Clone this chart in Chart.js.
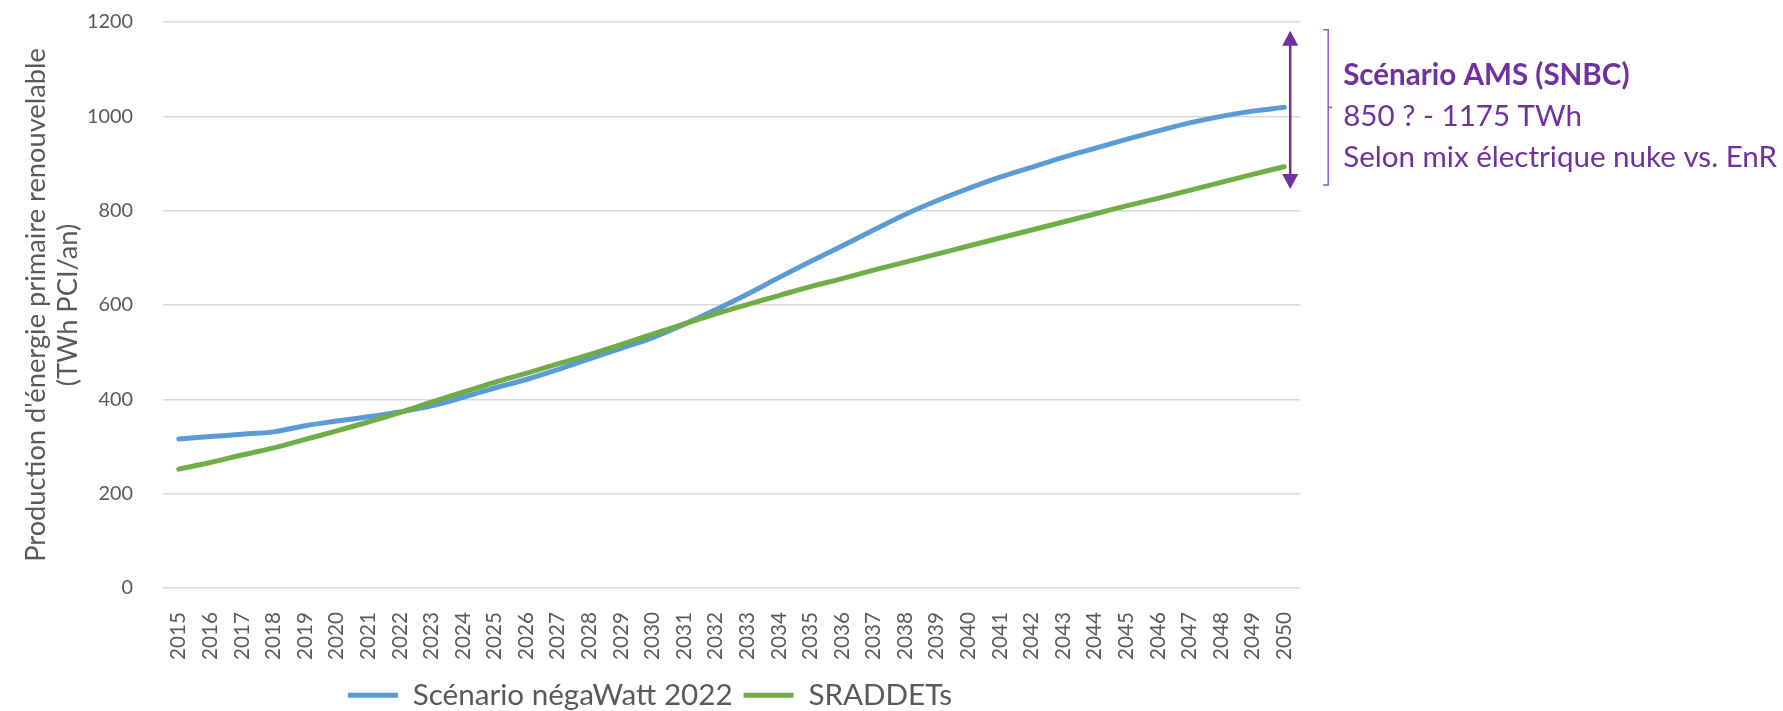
<!DOCTYPE html>
<html>
<head>
<meta charset="utf-8">
<script src="https://cdn.jsdelivr.net/npm/chart.js@4.4.1/dist/chart.umd.min.js"></script>
<style>
  html, body { margin: 0; padding: 0; background: #ffffff; }
  #wrap { width: 1783px; height: 711px; }
</style>
</head>
<body>
<div id="wrap"><canvas id="c" width="1783" height="711"></canvas></div>
<script>
// ---------- DATA ----------
const years = ['2015','2016','2017','2018','2019','2020','2021','2022','2023','2024',
  '2025','2026','2027','2028','2029','2030','2031','2032','2033','2034',
  '2035','2036','2037','2038','2039','2040','2041','2042','2043','2044',
  '2045','2046','2047','2048','2049','2050'];

const negaWatt2022 = [316,321,326,331,344,354,363,373,386,404,
  424,442,463,486,508,531,559,590,623,658,
  692,725,759,792,821,847,871,892,913,932,
  951,969,986,1000,1011,1019];

const sraddets = [252,266,282,297,315,333,352,372,394,415,
  436,455,475,495,516,538,560,581,601,620,
  639,656,674,691,708,725,742,759,776,793,
  810,826,843,860,877,893];

const seriesNames = ['Scénario négaWatt 2022', 'SRADDETs'];
const yTicks = [0, 200, 400, 600, 800, 1000, 1200];
const yTitleLines = ["Production d'énergie primaire renouvelable", '(TWh PCI/an)'];

const amsRange = [850, 1175];
const amsLines = ['Scénario AMS (SNBC)', '850 ? - 1175 TWh', 'Selon mix électrique nuke vs. EnR'];

// ---------- STYLE ----------
const FAMILY = 'Lato, "Open Sans", sans-serif';
const GREY = '#595959';
const PURPLE = '#7030A0';
const CANVAS_H = 711;
const PLOT_BOTTOM = 588;
const PAD_BOTTOM = -9;

function fitSize(text, weight, target) {
  const c = document.createElement('canvas').getContext('2d');
  c.font = weight + ' 100px ' + FAMILY;
  return 100 * target / c.measureText(text).width;
}

const yTickSize = fitSize('1200', 'normal', 46);
const xTickSize = fitSize('2015', 'normal', 48);
const yTitleSize = fitSize(yTitleLines[0], 'normal', 514);
const legendSize = fitSize(seriesNames[0], 'normal', 320);
const annSize = fitSize(amsLines[2], 'normal', 434);

const annotationPlugin = {
  id: 'amsAnnotation',
  afterDatasetsDraw(chart) {
    const ctx = chart.ctx;
    const xs = chart.scales.x, ys = chart.scales.y;
    const ax = xs.getPixelForValue(years.length - 1) + 6;
    const yTop = ys.getPixelForValue(amsRange[1]) - 3;
    const yBot = ys.getPixelForValue(amsRange[0]) + 2;
    const head = 15, hw = 8;
    ctx.save();
    ctx.strokeStyle = PURPLE;
    ctx.fillStyle = PURPLE;
    ctx.lineWidth = 2.5;
    ctx.beginPath();
    ctx.moveTo(ax, yTop + head - 2);
    ctx.lineTo(ax, yBot - head + 2);
    ctx.stroke();
    ctx.beginPath();
    ctx.moveTo(ax, yTop); ctx.lineTo(ax - hw, yTop + head); ctx.lineTo(ax + hw, yTop + head); ctx.closePath();
    ctx.fill();
    ctx.beginPath();
    ctx.moveTo(ax, yBot); ctx.lineTo(ax - hw, yBot - head); ctx.lineTo(ax + hw, yBot - head); ctx.closePath();
    ctx.fill();

    // bracket
    const bx = ax + 38;
    const bTop = yTop - 1, bBot = yBot - 4;
    const mid = (bTop + bBot) / 2;
    ctx.strokeStyle = '#8A5CB8';
    ctx.lineWidth = 1.5;
    ctx.beginPath();
    ctx.moveTo(bx - 5, bTop); ctx.lineTo(bx, bTop); ctx.lineTo(bx, bBot); ctx.lineTo(bx - 5, bBot);
    ctx.moveTo(bx, mid); ctx.lineTo(bx + 4, mid);
    ctx.stroke();

    // text
    const tx = bx + 15;
    ctx.fillStyle = PURPLE;
    ctx.textAlign = 'left';
    ctx.textBaseline = 'alphabetic';
    ctx.font = 'bold ' + annSize + 'px ' + FAMILY;
    ctx.fillText(amsLines[0], tx, mid - 22);
    ctx.font = 'normal ' + annSize + 'px ' + FAMILY;
    ctx.fillText(amsLines[1], tx, mid + 19);
    ctx.fillText(amsLines[2], tx, mid + 60);
    ctx.restore();
  }
};

const chart = new Chart(document.getElementById('c'), {
  type: 'line',
  data: {
    labels: years,
    datasets: [
      { label: seriesNames[0], data: negaWatt2022, borderColor: '#5B9BD5', backgroundColor: '#5B9BD5',
        borderWidth: 5, pointRadius: 0, tension: 0.4, fill: false, order: 1,
        borderCapStyle: 'round', borderJoinStyle: 'round' },
      { label: seriesNames[1], data: sraddets, borderColor: '#70AD47', backgroundColor: '#70AD47',
        borderWidth: 5, pointRadius: 0, tension: 0.4, fill: false, order: 0,
        borderCapStyle: 'round', borderJoinStyle: 'round' }
    ]
  },
  options: {
    responsive: false,
    animation: false,
    devicePixelRatio: 1,
    layout: { padding: { top: 22, right: 483, left: 0, bottom: PAD_BOTTOM } },
    scales: {
      x: {
        offset: true,
        grid: { display: false },
        border: { display: false },
        ticks: {
          autoSkip: false, minRotation: 90, maxRotation: 90, padding: 16,
          color: GREY, font: { family: FAMILY, size: xTickSize }
        },
        afterFit(scale) {
          const lg = scale.chart.legend;
          const lh = lg ? lg.height : 0;
          scale.height = Math.max(10, CANVAS_H - PAD_BOTTOM - PLOT_BOTTOM - lh);
        }
      },
      y: {
        min: 0, max: 1200,
        afterBuildTicks(scale) { scale.ticks = yTicks.map(v => ({ value: v })); },
        grid: { color: '#D9D9D9', lineWidth: 1.5, drawTicks: false },
        border: { display: false },
        ticks: {
          padding: 30, color: GREY, font: { family: FAMILY, size: yTickSize },
          callback: (v) => String(v)
        },
        title: {
          display: true, text: yTitleLines, color: GREY,
          font: { family: FAMILY, size: yTitleSize, lineHeight: 32 / yTitleSize },
          padding: { top: 20, bottom: 0 }
        },
        afterFit(scale) {
          scale.width = 163;
          scale.paddingTop = 0;
          scale.paddingBottom = 0;
        }
      }
    },
    plugins: {
      tooltip: { enabled: false },
      legend: {
        position: 'bottom',
        labels: {
          color: GREY,
          font: { family: FAMILY, size: legendSize },
          boxWidth: 50, boxHeight: 5, padding: 11,
          sort: (a, b) => a.datasetIndex - b.datasetIndex,
          generateLabels(ch) {
            return Chart.defaults.plugins.legend.labels.generateLabels(ch).map(l => {
              l.lineWidth = 0; l.fillStyle = l.strokeStyle; return l;
            });
          }
        }
      }
    }
  },
  plugins: [annotationPlugin]
});
</script>
</body>
</html>
